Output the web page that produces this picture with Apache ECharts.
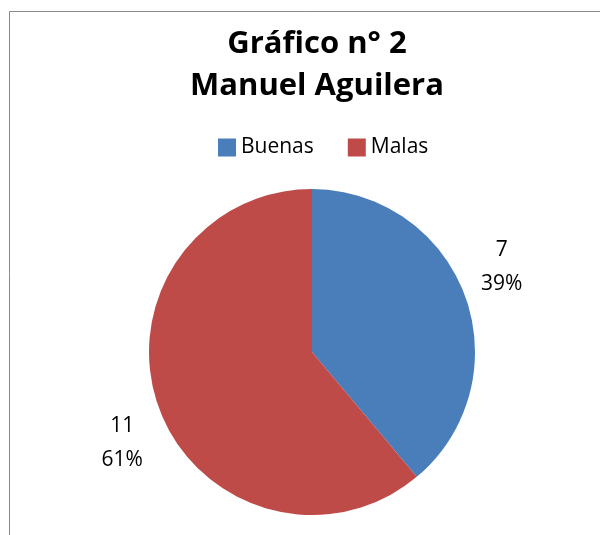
<!DOCTYPE html>
<html>
<head>
  <meta charset="UTF-8">
  <title>Gráfico n° 2</title>
  <script type="text/javascript" src="https://cdn.jsdelivr.net/npm/echarts@6/dist/echarts.min.js"></script>
  <style>
    body { margin: 0; overflow: hidden; background: #fff; }
  </style>
</head>
<body>
<div id="main" style="width:600px; height:535px;"></div>
<script>
  // datos del gráfico
  const categories = ['Buenas', 'Malas'];
  const values = [7, 11];
  const colors = ['#4a7ebb', '#be4b48'];
  const titleLines = ['Gráfico n° 2', 'Manuel Aguilera'];

  // desplazamiento vertical de las etiquetas (Excel las pone más lejos)
  const labelShift = [-27, 33];

  let chart = echarts.init(document.getElementById('main'), null, {renderer: 'canvas'});

  let total = values.reduce((a, b) => a + b, 0);

  let option = {
    backgroundColor: '#fff',
    animation: false,
    color: colors,
    graphic: [{
      type: 'rect',
      shape: {x: 9.5, y: 11.5, width: 800, height: 700},
      style: {fill: 'none', stroke: '#8a8a8a', lineWidth: 1},
      silent: true
    }],
    title: {
      text: titleLines.join('\n'),
      left: 312,
      top: 18,
      textAlign: 'center',
      textStyle: {
        fontFamily: 'Open Sans',
        fontWeight: 'bold',
        fontSize: 31,
        lineHeight: 42,
        color: '#000'
      }
    },
    legend: {
      data: categories,
      left: 213,
      top: 132,
      itemWidth: 18,
      itemHeight: 18,
      itemGap: 34,
      icon: 'rect',
      textStyle: {fontFamily: 'Open Sans', fontSize: 21, color: '#000'}
    },
    series: [{
      type: 'pie',
      center: [312, 352],
      radius: 163,
      startAngle: 90,
      clockwise: true,
      data: categories.map((c, i) => ({name: c, value: values[i]})),
      label: {
        position: 'outside',
        formatter: p => '{a|' + p.value + '}\n{a|' + Math.round(p.value / total * 100) + '%}',
        rich: {
          a: {fontFamily: 'Open Sans', fontSize: 21, lineHeight: 34, color: '#000', width: 50, align: 'center'}
        }
      },
      labelLine: {show: false, length: 7, length2: 0},
      labelLayout: p => ({dy: labelShift[p.dataIndex]}),
      itemStyle: {borderWidth: 0}
    }]
  };

  chart.setOption(option);
</script>
</body>
</html>
